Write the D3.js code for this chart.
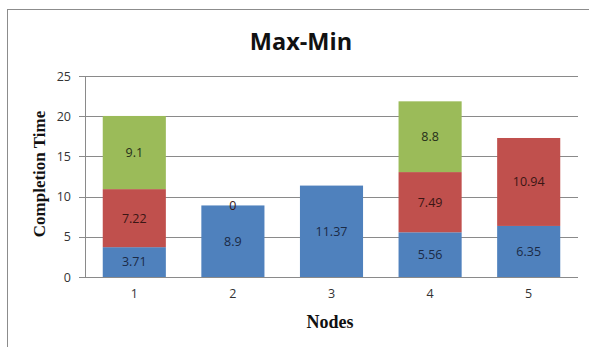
<!DOCTYPE html>
<html>
<head>
<meta charset="utf-8">
<script src="https://cdn.jsdelivr.net/npm/d3@7"></script>
<style>
  html, body { margin: 0; padding: 0; background: #fff; }
  svg { display: block; }
</style>
</head>
<body>
<svg id="chart" width="589" height="347"></svg>
<script>
// Completion time per node, split into three stacked stages
const nodes = ["1", "2", "3", "4", "5"];
const stage1 = [3.71, 8.9, 11.37, 5.56, 6.35];
const stage2 = [7.22, 0, null, 7.49, 10.94];
const stage3 = [9.1, null, null, 8.8, null];
const yTicks = [0, 5, 10, 15, 20, 25];

const colors = ["#4F81BD", "#C0504D", "#9BBB59"];
const labelColors = ["#1b2a45", "#3a1614", "#26301a"];

const svg = d3.select("#chart");
const W = 589, H = 347;
const margin = { top: 76, right: 11, bottom: 70, left: 85 };
const plotW = W - margin.left - margin.right;
const plotH = H - margin.top - margin.bottom;

// outer frame
svg.append("rect")
  .attr("x", 7.5).attr("y", 9.5)
  .attr("width", W + 20).attr("height", H + 20)
  .attr("fill", "none").attr("stroke", "#8c8c8c").attr("stroke-width", 1);

const x = d3.scaleBand().domain(nodes).range([0, plotW]).paddingInner(0.36).paddingOuter(0.18);
const y = d3.scaleLinear().domain([0, 25]).range([plotH, 0]);

const g = svg.append("g").attr("transform", `translate(${margin.left},${margin.top})`);

// gridlines
g.append("g")
  .selectAll("line")
  .data(yTicks)
  .join("line")
  .attr("x1", -6).attr("x2", plotW)
  .attr("y1", d => Math.round(y(d)) + 0.5).attr("y2", d => Math.round(y(d)) + 0.5)
  .attr("stroke", "#8a8a8a").attr("stroke-width", 1);

// left axis line
g.append("line")
  .attr("x1", 0.5).attr("x2", 0.5).attr("y1", 0).attr("y2", plotH)
  .attr("stroke", "#8a8a8a");

// y axis labels
const yAxis = d3.axisLeft(y).tickValues(yTicks).tickSize(0).tickPadding(14);
const yG = g.append("g").call(yAxis);
yG.select(".domain").remove();
yG.selectAll("text")
  .attr("font-family", "'Open Sans', 'DejaVu Sans', sans-serif")
  .attr("font-size", 12.5).attr("fill", "#333");

// x axis labels
const xAxis = d3.axisBottom(x).tickSize(0).tickPadding(12);
const xG = g.append("g").attr("transform", `translate(0,${plotH})`).call(xAxis);
xG.select(".domain").remove();
xG.selectAll("text")
  .attr("font-family", "'Open Sans', 'DejaVu Sans', sans-serif")
  .attr("font-size", 12.5).attr("fill", "#333");

// stacked bars
const series = [stage1, stage2, stage3];
nodes.forEach((n, i) => {
  let base = 0;
  series.forEach((s, k) => {
    const v = s[i];
    if (v === null || v === undefined) return;
    const y0 = y(base), y1 = y(base + v);
    g.append("rect")
      .attr("x", x(n)).attr("width", x.bandwidth())
      .attr("y", y1).attr("height", y0 - y1)
      .attr("fill", colors[k]);
    g.append("text")
      .attr("x", x(n) + x.bandwidth() / 2)
      .attr("y", (y0 + y1) / 2)
      .attr("dy", "0.35em")
      .attr("text-anchor", "middle")
      .attr("font-family", "'Open Sans', 'DejaVu Sans', sans-serif")
      .attr("font-size", 12.5)
      .attr("fill", labelColors[k])
      .text(v);
    base += v;
  });
});

// title
svg.append("text")
  .attr("x", 301).attr("y", 50)
  .attr("text-anchor", "middle")
  .attr("font-family", "'Open Sans', 'Liberation Sans', sans-serif")
  .attr("font-weight", "bold")
  .attr("font-size", 23.5)
  .attr("fill", "#111")
  .text("Max-Min");

// axis titles
svg.append("text")
  .attr("x", 330).attr("y", 328)
  .attr("text-anchor", "middle")
  .attr("font-family", "'Liberation Serif', 'DejaVu Serif', serif")
  .attr("font-weight", "bold")
  .attr("font-size", 18)
  .attr("fill", "#111")
  .text("Nodes");

svg.append("text")
  .attr("transform", `translate(45,174) rotate(-90)`)
  .attr("text-anchor", "middle")
  .attr("font-family", "'Liberation Serif', 'DejaVu Serif', serif")
  .attr("font-weight", "bold")
  .attr("font-size", 17)
  .attr("fill", "#111")
  .text("Completion Time");
</script>
</body>
</html>
